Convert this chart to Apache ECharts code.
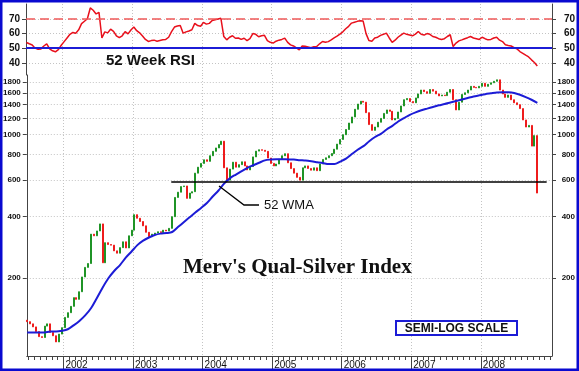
<!DOCTYPE html>
<html><head><meta charset="utf-8">
<script src="https://cdn.jsdelivr.net/npm/echarts@6/dist/echarts.min.js"></script>
<style>html,body{margin:0;padding:0;background:#fff}#c{width:579px;height:371px}</style>
</head><body><div id="c"></div>
<script>
// x positions are months since Jan 2001; candles/RSI every half month, WMA monthly
const firstMonth = 5.75;
const halfMonth = 0.5;
const years = [2002, 2003, 2004, 2005, 2006, 2007, 2008];
const priceTicks = [200, 400, 600, 800, 1000, 1200, 1400, 1600, 1800];
const rsiTicks = [40, 50, 60, 70];
const supportLevel = 590;
const supportFrom = 30.6, supportTo = 95.36;

const closes = [
123,120,116,110,104,103,117,120,109,105,
98,107,115,129,136,146,161,158,172,203,
226,236,328,322,340,368,238,298,292,290,
272,265,282,301,281,322,343,408,392,378,
360,335,319,328,332,337,334,343,340,350,
399,495,525,559,563,490,520,528,650,695,
725,755,742,790,830,862,895,930,690,601,
680,735,695,715,738,705,674,700,780,832,
845,840,830,770,725,705,720,760,790,808,
730,684,650,620,601,690,705,685,672,690,
668,720,758,772,790,810,850,900,948,1000,
1060,1140,1220,1330,1410,1455,1440,1280,1120,1050,
1090,1150,1200,1270,1320,1300,1180,1200,1290,1380,
1480,1500,1450,1430,1510,1580,1650,1620,1590,1660,
1630,1580,1545,1560,1550,1610,1660,1480,1320,1440,
1570,1600,1650,1720,1700,1690,1720,1780,1720,1760,
1790,1820,1850,1650,1580,1520,1560,1480,1430,1400,
1340,1180,1090,1110,880,990,520];
const firstOpen = 125;

const rsi = [
53.9,53,52.2,50,49.2,49.5,51.5,53,49.5,48.2,
47.5,49,52,54.5,57,59.5,60.8,60.3,62.6,66.8,
68.5,70.2,77.6,76,73.5,74.6,57,61.2,60.5,63,
61.5,58.5,57.2,58.5,61.4,59.8,62.5,64.5,62,60.5,
58.3,56,54.6,55.2,55.5,54.8,55.3,55.8,56,57.5,
61.4,64.5,65.2,65.6,60.3,61.2,61.8,62.6,67,65.5,
65,67.7,66.5,67,69,69.5,70,70.5,58,55.7,
57.5,58.5,56.8,57,56,56.8,55.2,56.5,60,59.5,
57.8,58.5,58.8,55.2,54,53.5,54.8,55.5,56,56.9,
54,52.3,51.5,50.2,48.8,51.5,51.3,50.8,50.3,51,
51.1,53,54.6,54,54.5,55.7,57,58.2,59.6,61.2,
63.3,65,67.2,67.8,68.4,68.8,68.6,60,55.2,54.8,
57,57.5,58.8,59.5,60.3,57,54,55.5,57.5,59,
60.3,59.5,59,58.5,59.6,61.4,59.5,59,60,59.5,
58,57.5,56.5,56,56.5,58,59.2,51.1,53.5,55,
55.7,56.5,57.2,58,57,56.5,56,57.5,56.5,55.7,
56,57,57.5,55.5,54.5,52.3,51.8,51.5,50.3,49.5,
47.7,46.5,45.2,44,42,40.2,37.8];

const wma = [
109,109,109,109,110,110,111,113,118,124,
132,143,160,180,200,217,232,252,270,290,
305,316,325,330,332,336,355,375,396,418,
440,465,500,535,580,615,640,665,690,710,
730,750,757,760,760,758,757,752,748,742,
735,728,720,720,740,765,805,845,880,930,
975,1010,1060,1105,1160,1205,1250,1285,1315,1340,
1365,1390,1410,1435,1460,1485,1510,1535,1555,1575,
1590,1605,1610,1608,1595,1565,1525,1480,1430];

const X_MIN = 5.679, X_MAX = 96.28;
const yearMonths = years.map(y => (y - 2001) * 12);
const monthTicks = []; for (let m = 6; m <= 96; m++) monthTicks.push(m);

const candleData = closes.map((c, i) => {
  const o = i === 0 ? firstOpen : closes[i - 1];
  return [firstMonth + i * halfMonth, o, c, Math.min(o, c), Math.max(o, c)];
});
const rsiData = rsi.map((v, i) => [firstMonth + i * halfMonth, v]);
const wmaData = wma.map((v, i) => [firstMonth + i, v]);

const GREEN = '#1f9426', RED = '#ee1c1c', BLUE = '#1c1cd6';
const FONT = '"Liberation Sans", Arial, sans-serif';
const dotted = { show: true, lineStyle: { type: [1, 2], color: '#c4c4c4', width: 1 } };
const axisLine = { show: true, lineStyle: { color: '#444', width: 1 } };
const plain = v => String(Math.round(v));

const chart = echarts.init(document.getElementById('c'), null, { renderer: 'canvas' });
chart.setOption({
  animation: false,
  backgroundColor: '#fff',
  grid: [
    { left: 26, right: 27, top: 4, height: 71 },
    { left: 26, right: 27, top: 75, bottom: 15 }
  ],
  xAxis: [
    { gridIndex: 0, type: 'value', min: X_MIN, max: X_MAX, position: 'bottom',
      axisLine: { show: false }, axisLabel: { show: false },
      axisTick: { show: false, customValues: yearMonths },
      splitLine: dotted },
    { gridIndex: 1, type: 'value', min: X_MIN, max: X_MAX, position: 'bottom',
      axisLine: axisLine, axisLabel: { show: false },
      axisTick: { show: true, customValues: monthTicks, length: 4, lineStyle: { color: '#444' } },
      splitLine: { show: false } },
    { gridIndex: 1, type: 'value', min: X_MIN, max: X_MAX, position: 'bottom',
      axisLine: { show: false },
      axisTick: { show: true, customValues: yearMonths, length: 16, lineStyle: { color: '#444' } },
      axisLabel: { show: true, customValues: yearMonths, align: 'left', margin: 4,
        padding: [0, 0, 0, 2], fontSize: 10, fontFamily: FONT, color: '#111',
        formatter: v => String(2001 + Math.round(v / 12)) },
      splitLine: dotted }
  ],
  yAxis: [
    { gridIndex: 0, type: 'value', min: 31.6, max: 80.3, position: 'left',
      axisLine: axisLine,
      axisTick: { show: true, customValues: rsiTicks, length: 4, lineStyle: { color: '#444' } },
      axisLabel: { customValues: rsiTicks, fontSize: 10, fontWeight: 'bold', fontFamily: FONT, color: '#111', margin: 6, formatter: plain },
      splitLine: dotted },
    { gridIndex: 0, type: 'value', min: 31.6, max: 80.3, position: 'right',
      axisLine: axisLine,
      axisTick: { show: true, customValues: rsiTicks, length: 4, lineStyle: { color: '#444' } },
      axisLabel: { customValues: rsiTicks, fontSize: 10, fontWeight: 'bold', fontFamily: FONT, color: '#111', margin: 23, align: 'right', formatter: plain },
      splitLine: { show: false } },
    { gridIndex: 1, type: 'log', min: 83.7, max: 1953, position: 'left',
      axisLine: axisLine,
      axisTick: { show: true, customValues: priceTicks, length: 4, lineStyle: { color: '#444' } },
      axisLabel: { customValues: priceTicks, fontSize: 8, fontWeight: 'bold', fontFamily: FONT, color: '#111', margin: 6, formatter: plain },
      splitLine: dotted },
    { gridIndex: 1, type: 'log', min: 83.7, max: 1953, position: 'right',
      axisLine: axisLine,
      axisTick: { show: true, customValues: priceTicks, length: 4, lineStyle: { color: '#444' } },
      axisLabel: { customValues: priceTicks, fontSize: 8, fontWeight: 'bold', fontFamily: FONT, color: '#111', margin: 23, align: 'right', formatter: plain },
      splitLine: { show: false } }
  ],
  series: [
    { type: 'line', xAxisIndex: 0, yAxisIndex: 0, data: rsiData, showSymbol: false,
      lineStyle: { color: '#e8101c', width: 1.5 }, z: 3,
      markLine: { silent: true, symbol: 'none', label: { show: false },
        data: [
          { yAxis: 70, lineStyle: { color: '#f05a5a', type: [9, 5], width: 1.5 } },
          { yAxis: 50, lineStyle: { color: BLUE, type: 'solid', width: 2 } }
        ] } },
    { type: 'candlestick', xAxisIndex: 1, yAxisIndex: 2, data: candleData,
      encode: { x: 0, y: [1, 2, 3, 4] }, barWidth: 1.5,
      itemStyle: { color: GREEN, color0: RED, borderColor: GREEN, borderColor0: RED, borderWidth: 1 },
      markLine: { silent: true, symbol: 'none', label: { show: false },
        lineStyle: { color: '#000', type: 'solid', width: 1.5 },
        data: [[{ coord: [supportFrom, supportLevel] }, { coord: [supportTo, supportLevel] }]] } },
    { type: 'line', xAxisIndex: 1, yAxisIndex: 2, data: wmaData, showSymbol: false, smooth: 0.3,
      lineStyle: { color: BLUE, width: 2 }, z: 4 }
  ],
  graphic: [
    { type: 'rect', shape: { x: 1.25, y: 1.25, width: 576.5, height: 368.5 },
      style: { fill: 'none', stroke: '#0a0ad0', lineWidth: 2.5 }, z: 100 },
    { type: 'text', x: 106, y: 61, style: { text: '52 Week RSI', font: 'bold 15px "Liberation Sans", Arial', fill: '#111', verticalAlign: 'middle' }, z: 50 },
    { type: 'text', x: 183, y: 268, style: { text: "Merv's Qual-Silver Index", font: 'bold 21px "Liberation Serif", "Times New Roman", serif', fill: '#111', verticalAlign: 'middle' }, z: 50 },
    { type: 'polyline', shape: { points: [[219, 186], [244, 205], [259, 205]] }, style: { stroke: '#000', lineWidth: 1.3, fill: null }, z: 50 },
    { type: 'text', x: 264, y: 205, style: { text: '52 WMA', font: '13px "Liberation Sans", Arial', fill: '#111', verticalAlign: 'middle' }, z: 50 },
    { type: 'rect', shape: { x: 396, y: 321, width: 121, height: 14 }, style: { fill: '#fff', stroke: '#1c1cd6', lineWidth: 2 }, z: 50 },
    { type: 'text', x: 456.5, y: 328.5, style: { text: 'SEMI-LOG SCALE', font: 'bold 12px "Liberation Sans", Arial', fill: '#111', align: 'center', verticalAlign: 'middle' }, z: 51 }
  ]
});
</script></body></html>
